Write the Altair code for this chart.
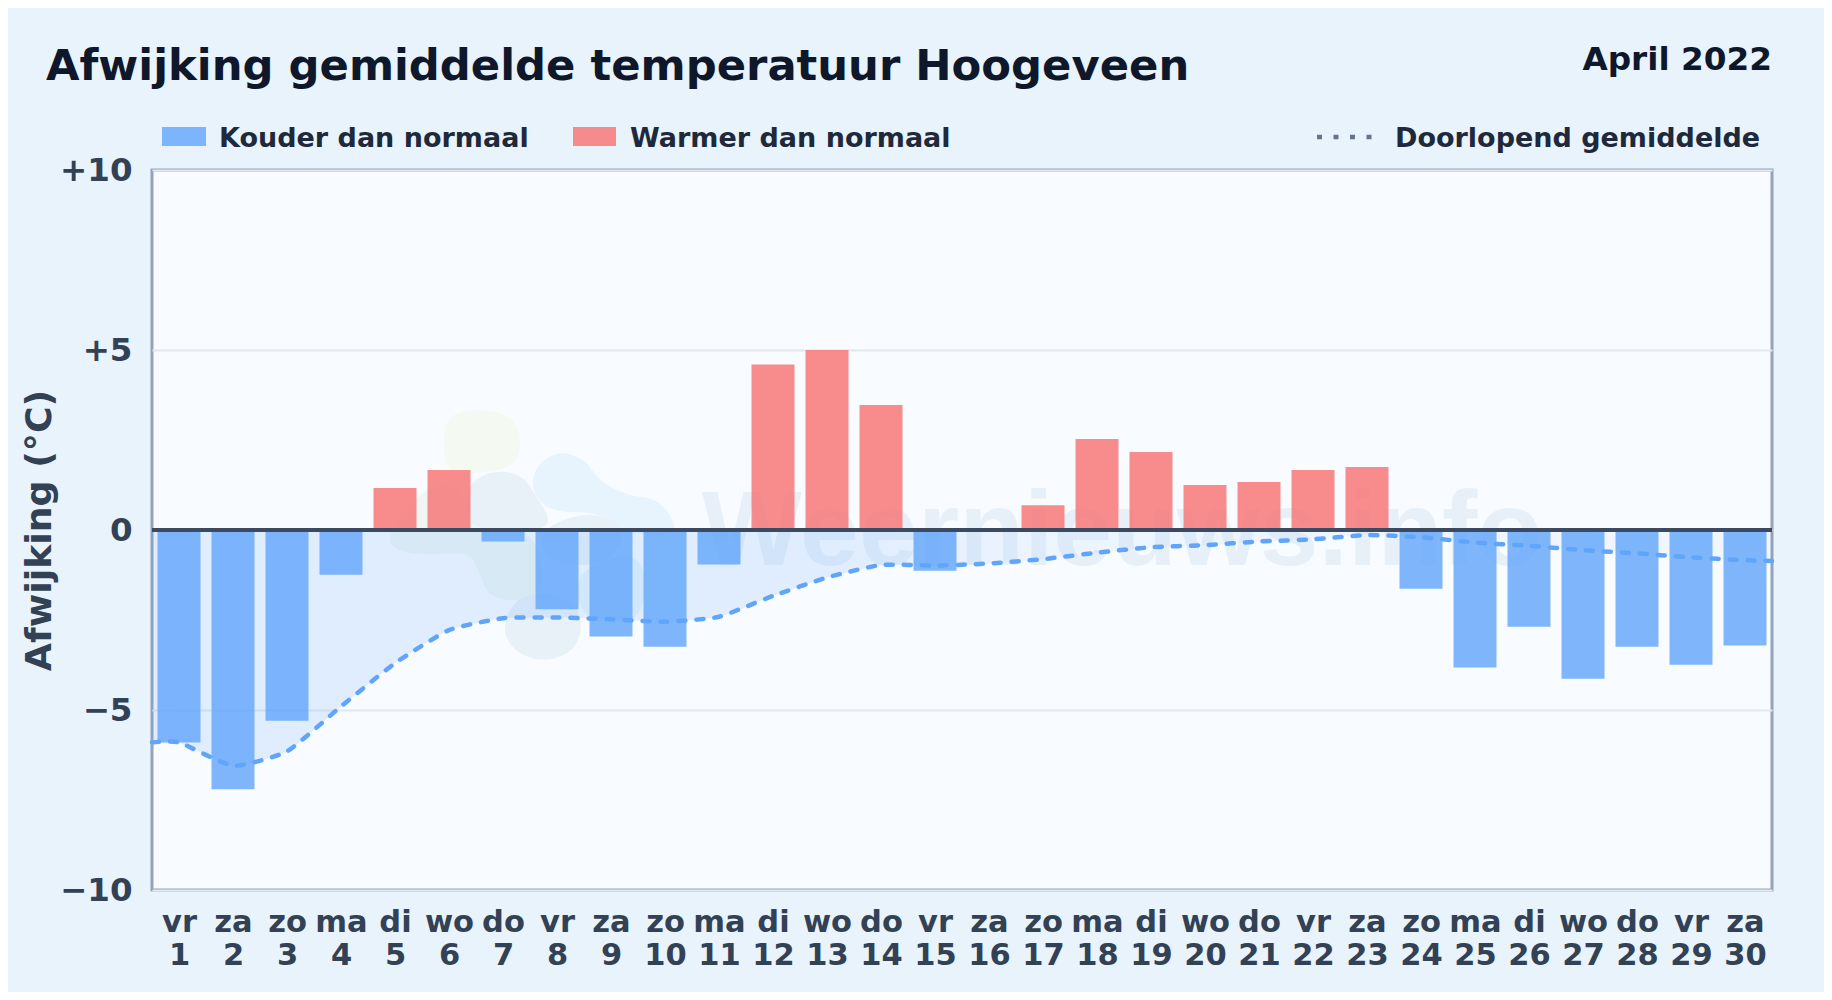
import json
import altair as alt
import pandas as pd

FONT = "DejaVu Sans"
PAGE = "#e8f3fc"
days = list(range(1, 31))
weekdays = ["vr", "za", "zo", "ma", "di", "wo", "do", "vr", "za", "zo", "ma", "di", "wo", "do", "vr",
            "za", "zo", "ma", "di", "wo", "do", "vr", "za", "zo", "ma", "di", "wo", "do", "vr", "za"]
deviation = [-5.9, -7.2, -5.3, -1.24, 1.17, 1.67, -0.32, -2.2, -2.96, -3.24, -0.96, 4.6, 5.0, 3.47, -1.13,
             0.0, 0.69, 2.53, 2.17, 1.25, 1.33, 1.67, 1.75, -1.63, -3.82, -2.69, -4.13, -3.24, -3.74, -3.21]
line_days = [0.5] + days + [30.5]
running = [-5.9, -5.9, -6.55, -6.15, -4.9, -3.7, -2.78, -2.45, -2.43, -2.48, -2.55, -2.41, -1.83, -1.32, -0.97,
           -0.99, -0.93, -0.81, -0.63, -0.48, -0.42, -0.32, -0.26, -0.14, -0.20, -0.35, -0.44, -0.56, -0.65,
           -0.76, -0.84, -0.86]

bars = pd.DataFrame({"day": days, "value": deviation})
bars["kind"] = ["warm" if v > 0 else "cold" for v in deviation]
mean = pd.DataFrame({"day": line_days, "value": running})

xscale = alt.Scale(domain=[0.5, 30.5], nice=False, padding=0)
yscale = alt.Scale(domain=[-10, 10], nice=False)
one = alt.Data(values=[{}])

labels_expr = "[" + json.dumps(weekdays).replace('"', "'") + "[datum.value-1], '' + datum.value]"


def text(s, x, y, size, color, align="left", opacity=1.0, weight="bold", font=FONT):
    return alt.Chart(one).mark_text(text=s, align=align, baseline="alphabetic", font=font, fontSize=size,
                                    fontWeight=weight, color=color, opacity=opacity).encode(
        x=alt.value(x), y=alt.value(y))


def blob(points, color):
    # watermark logo: smooth closed outline through the midpoints of a rough polygon
    n = len(points)
    mid = lambda a, b: ((a[0] + b[0]) / 2, (a[1] + b[1]) / 2)
    start = mid(points[-1], points[0])
    path = f"M {start[0]} {start[1]} "
    for i in range(n):
        m = mid(points[i], points[(i + 1) % n])
        path += f"Q {points[i][0]} {points[i][1]} {m[0]} {m[1]} "
    path += "Z"
    return alt.Chart(one).mark_point(filled=True, shape=path, size=4, color=color, opacity=1).encode(
        x=alt.value(-152), y=alt.value(-170))


GREEN, YEL, GREY, SKY = "#eef6f3", "#f4f9f1", "#e8f0f8", "#e8f4fd"
logo = [
    blob([(443, 443), (447, 415), (483, 408), (513, 417), (522, 440), (516, 465), (487, 473), (447, 473)], YEL),
    blob([(385, 540), (415, 495), (450, 480), (470, 505), (500, 525), (535, 535), (545, 580), (532, 600),
          (490, 600), (478, 570), (470, 552), (430, 555), (400, 552)], GREEN),
    blob([(465, 488), (490, 470), (522, 474), (535, 495), (550, 518), (543, 530), (490, 533), (465, 520)], GREY),
    blob([(532, 470), (558, 450), (586, 460), (598, 480), (625, 495), (658, 499), (674, 520), (675, 536),
          (618, 533), (612, 520), (590, 512), (555, 512), (534, 498)], SKY),
    blob([(535, 536), (570, 515), (610, 515), (626, 536), (605, 565), (555, 565)], GREY),
    blob([(502, 626), (517, 597), (549, 592), (579, 607), (582, 634), (570, 654), (540, 662), (512, 650)], GREY),
    blob([(574, 592), (585, 566), (645, 550), (645, 622), (590, 624)], SKY),
]
watermark = text("Weernieuws.info", 1122 - 152, 565 - 170, 106, "#2f7fc1", align="center", opacity=0.08,
                 font="Liberation Sans")

area = alt.Chart(mean).mark_area(
    interpolate="cardinal", tension=0.5,
    color=alt.LinearGradient(gradient="linear", x1=0, x2=1, y1=0, y2=0, stops=[
        alt.GradientStop(offset=0, color="rgba(96,165,250,0.17)"),
        alt.GradientStop(offset=0.42, color="rgba(96,165,250,0.16)"),
        alt.GradientStop(offset=0.55, color="rgba(96,165,250,0.08)"),
        alt.GradientStop(offset=1, color="rgba(96,165,250,0.05)"),
    ])).encode(x=alt.X("day:Q", scale=xscale), y=alt.Y("value:Q", scale=yscale), y2=alt.datum(0))

base_bars = alt.Chart(bars).mark_bar(width=43, opacity=0.8).encode(
    x=alt.X("day:Q", scale=xscale, axis=alt.Axis(
        values=days, labelExpr=labels_expr, labelFont=FONT, labelFontWeight="bold", labelFontSize=30.5,
        labelColor="#334155", labelPadding=17, labelBaseline="top", labelLineHeight=33, labelOverlap=False,
        labelFlush=False, labelAngle=0, domain=False, ticks=False, grid=False, title=None)),
    y=alt.Y("value:Q", scale=yscale, axis=alt.Axis(
        values=[-10, -5, 0, 5, 10], labelExpr="datum.value === 0 ? '0' : format(datum.value, '+d')",
        labelFont=FONT, labelFontWeight="bold", labelFontSize=32.5, labelColor="#334155", labelPadding=20,
        domain=False, ticks=False, grid=True, gridColor="#e2e8f0", gridWidth=2,
        title="Afwijking (°C)", titleFont=FONT, titleFontWeight="bold", titleFontSize=36.3,
        titleColor="#334155", titleX=-113, titleY=360, titleBaseline="middle")),
    y2=alt.datum(0),
    color=alt.Color("kind:N", scale=alt.Scale(domain=["cold", "warm"], range=["#60a5fa", "#f87171"]), legend=None),
)

zero = alt.Chart(one).mark_rule(color="#3b4a60", strokeWidth=4).encode(y=alt.datum(0, scale=yscale))

line = alt.Chart(mean).mark_line(interpolate="cardinal", tension=0.5, color="#60a5fa", strokeWidth=4.5,
                                 strokeCap="round", strokeDash=[7, 11]).encode(
    x=alt.X("day:Q", scale=xscale), y=alt.Y("value:Q", scale=yscale))


def swatch(x1, x2, color):
    return alt.Chart(one).mark_rect(color=color, opacity=0.8).encode(
        x=alt.value(x1 - 152), x2=alt.value(x2 - 152), y=alt.value(127 - 170), y2=alt.value(146 - 170))


decor = [
    text("Afwijking gemiddelde temperatuur Hoogeveen", 46 - 152, 80 - 170, 43.3, "#0f172a"),
    text("April 2022", 1772 - 152, 70 - 170, 32.7, "#0f172a", align="right"),
    swatch(162, 206, "#60a5fa"),
    text("Kouder dan normaal", 219 - 152, 147 - 170, 27, "#1e293b"),
    swatch(573, 616, "#f87171"),
    text("Warmer dan normaal", 630 - 152, 147 - 170, 27, "#1e293b"),
    alt.Chart(one).mark_rule(color="#64748b", strokeWidth=4.5, strokeDash=[5, 11.5]).encode(
        x=alt.value(1317 - 152), x2=alt.value(1374 - 152), y=alt.value(137 - 170)),
    text("Doorlopend gemiddelde", 1395 - 152, 147 - 170, 27, "#1e293b"),
]

chart = alt.layer(*logo, watermark, area, base_bars, zero, line, *decor).properties(
    width=1620, height=720, background=PAGE,
    padding={"left": 144, "top": 162, "right": 52, "bottom": 102},
    autosize=alt.AutoSizeParams(type="none"),
).configure_view(fill="#f8fbff", stroke="#94a3b8", strokeWidth=3)

chart.save("out.html", embed_options={"renderer": "svg", "actions": False})
